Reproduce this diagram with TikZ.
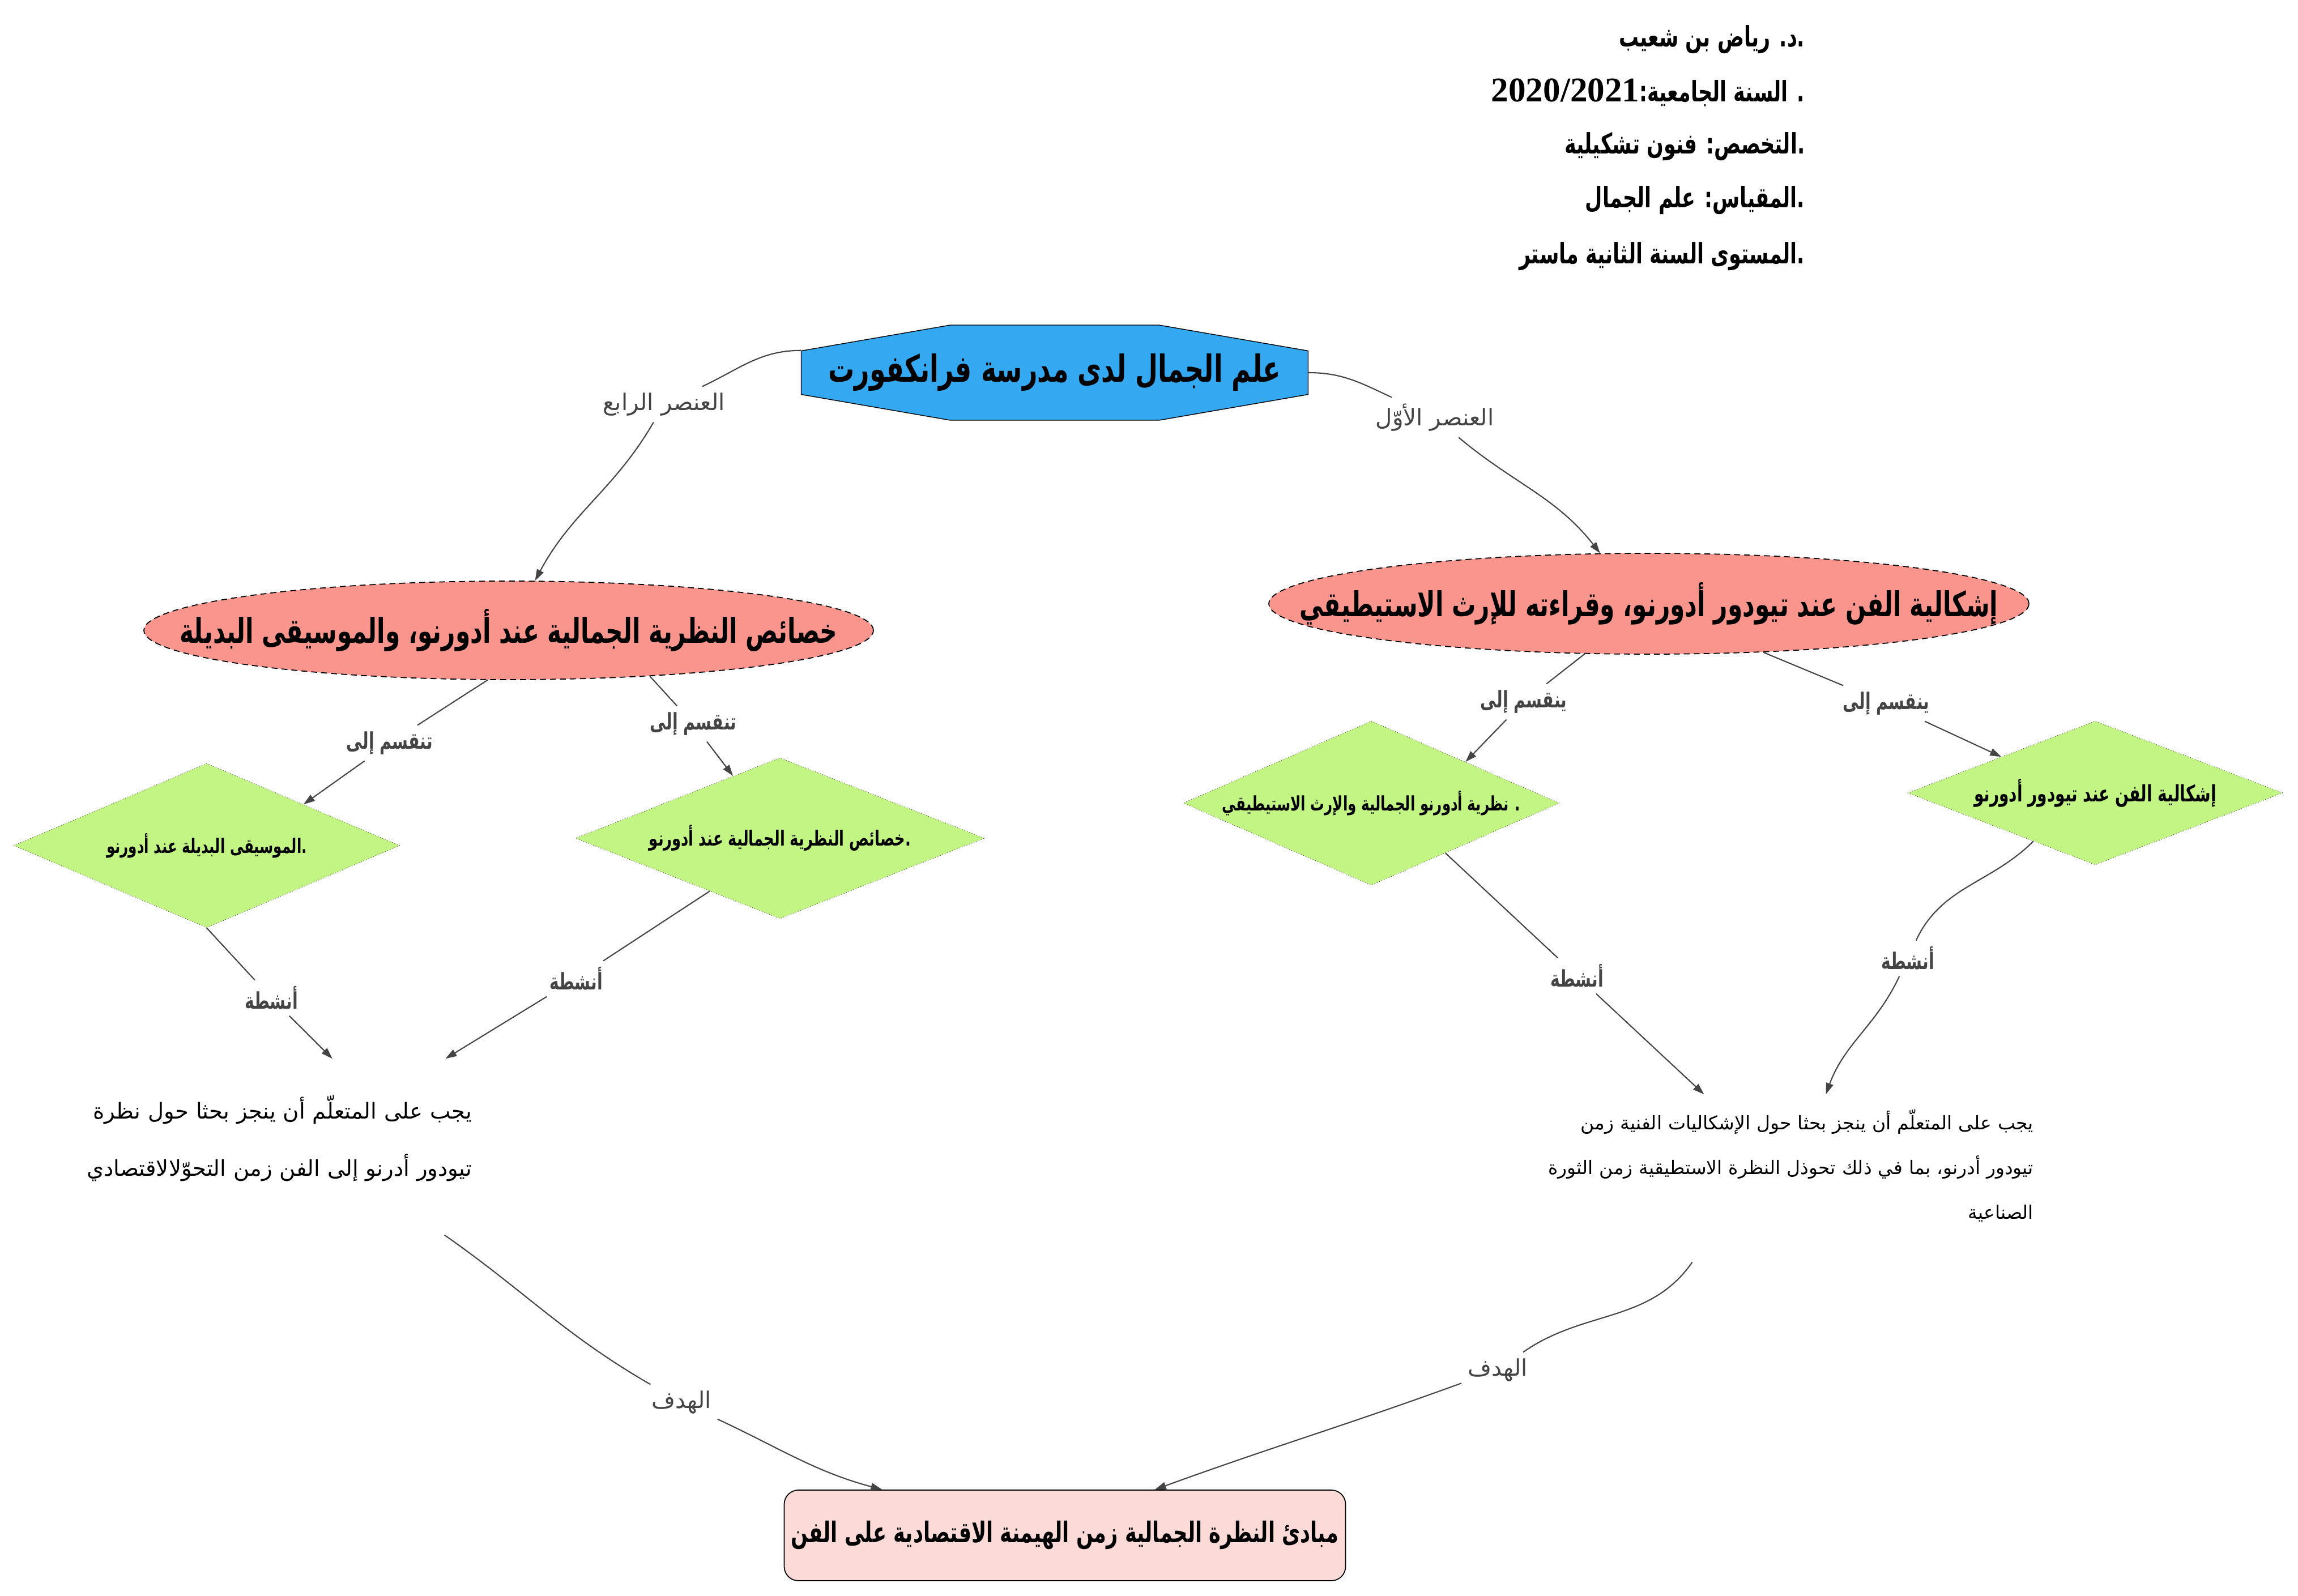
\documentclass[tikz,border=0pt]{standalone}
\usepackage{fontspec}
\usepackage{tikz}
\usetikzlibrary{shapes.geometric,arrows.meta,calc,backgrounds}
\TeXXeTstate=1
\newfontfamily\arabicfont[Script=Arabic]{DejaVu Sans}
\newfontfamily\arabicnarrow[Script=Arabic,FakeStretch=0.7]{DejaVu Sans}
\newfontfamily\latinserif{Liberation Serif}
\definecolor{topicblue}{HTML}{35A8F2}
\definecolor{partsalmon}{HTML}{F9958D}
\definecolor{subgreen}{HTML}{C2F584}
\definecolor{goalpink}{HTML}{FCDAD8}
\definecolor{linkgray}{HTML}{444444}
\newcommand{\rtltext}[1]{\beginR #1\endR}

\begin{document}
\begin{tikzpicture}[
    headline/.style={anchor=east, inner sep=0pt, font={\arabicnarrow\bfseries\fontsize{14.2}{17}\selectfont}},
    topicbox/.style={minimum width=8.95cm, minimum height=1.68cm, inner sep=0pt,
        font={\arabicnarrow\bfseries\fontsize{18.7}{22}\selectfont}},
    partell/.style={ellipse, fill=partsalmon, draw=black, densely dashed, line width=0.5pt,
        inner xsep=-3cm, inner ysep=0pt, font={\arabicnarrow\bfseries\fontsize{17.2}{20}\selectfont}},
    subdiam/.style={diamond, fill=subgreen, draw=black!70, densely dotted, line width=0.3pt,
        inner xsep=-2cm, inner ysep=0pt, font={\arabicnarrow\bfseries\fontsize{10}{12}\selectfont}},
    tasktext/.style={inner sep=0pt, align=right, font={\arabicfont\fontsize{11}{28.7}\selectfont}},
    goalbox/.style={rectangle, rounded corners=0.25cm, fill=goalpink, draw=black, line width=0.5pt,
        minimum width=9.91cm, minimum height=1.60cm, inner sep=0pt,
        font={\arabicnarrow\bfseries\fontsize{14.3}{17}\selectfont}},
    linklabel/.style={inner sep=3pt, text=linkgray, font={\arabicfont\fontsize{11.5}{14}\selectfont}},
    linklabelb/.style={inner sep=3pt, text=linkgray, font={\arabicnarrow\bfseries\fontsize{11.5}{14}\selectfont}},
    conn/.style={draw=linkgray, line width=0.6pt, -{Triangle[length=0.2cm,width=0.13cm]}}
]
    \useasboundingbox (0,0) rectangle (40.57,-28.18);

    % header
    \node[headline] (h1) at (31.87,-0.70) {\rtltext{.د. رياض بن شعيب}};
    \node[headline] (h2) at (31.87,-1.63) {\rtltext{. السنة الجامعية:\beginL{\latinserif\fontsize{17.4}{20}\selectfont 2020/2021}\endL}};
    \node[headline] (h3) at (31.87,-2.59) {\rtltext{.التخصص: فنون تشكيلية}};
    \node[headline] (h4) at (31.87,-3.54) {\rtltext{.المقياس: علم الجمال}};
    \node[headline] (h5) at (31.87,-4.53) {\rtltext{.المستوى السنة الثانية ماستر}};

    % main topic
    \node[topicbox] (topic) at (18.62,-6.58) {\rtltext{علم الجمال لدى مدرسة فرانكفورت}};
    \begin{scope}[on background layer]
        \filldraw[fill=topicblue, draw=black, line width=0.4pt, shift={(topic.center)}]
            (-4.475,0.385) -- (-1.845,0.84) -- (1.845,0.84) -- (4.475,0.385)
            -- (4.475,-0.385) -- (1.845,-0.84) -- (-1.845,-0.84) -- (-4.475,-0.385) -- cycle;
    \end{scope}

    % elements
    \node[partell, minimum width=13.42cm, minimum height=1.78cm] (first) at (29.11,-10.66)
        {\rtltext{إشكالية الفن عند تيودور أدورنو، وقراءته للإرث الاستيطيقي}};
    \node[partell, minimum width=12.88cm, minimum height=1.74cm] (fourth) at (8.98,-11.13)
        {\rtltext{خصائص النظرية الجمالية عند أدورنو، والموسيقى البديلة}};

    \node[subdiam, minimum width=6.62cm, minimum height=2.54cm,
        font={\arabicnarrow\bfseries\fontsize{11.4}{13}\selectfont}] (firstA) at (36.99,-14.00)
        {\rtltext{إشكالية الفن عند تيودور أدورنو}};
    \node[subdiam, minimum width=6.64cm, minimum height=2.90cm] (firstB) at (24.21,-14.18)
        {\rtltext{. نظرية أدورنو الجمالية والإرث الاستيطيقي}};
    \node[subdiam, minimum width=7.22cm, minimum height=2.84cm,
        font={\arabicnarrow\bfseries\fontsize{10.5}{12}\selectfont}] (fourthA) at (13.77,-14.80)
        {\rtltext{.خصائص النظرية الجمالية عند أدورنو}};
    \node[subdiam, minimum width=6.82cm, minimum height=2.90cm] (fourthB) at (3.65,-14.93)
        {\rtltext{.الموسيقى البديلة عند أدورنو}};

    \node[tasktext, text width=8cm, minimum height=2.8cm] (fourthTask) at (4.33,-20.10)
        {\rtltext{يجب على المتعلّم أن ينجز بحثا حول نظرة}\\
         \rtltext{تيودور أدرنو إلى الفن زمن التحوّلالاقتصادي}};
    \node[tasktext, text width=9.5cm, minimum height=2.5cm,
        font={\arabicfont\fontsize{9.4}{22.5}\selectfont}] (firstTask) at (31.15,-20.58)
        {\rtltext{يجب على المتعلّم أن ينجز بحثا حول الإشكاليات الفنية زمن}\\
         \rtltext{تيودور أدرنو، بما في ذلك تحوذل النظرة الاستطيقية زمن الثورة}\\
         \rtltext{الصناعية}};

    \node[goalbox] (goal) at (18.80,-27.11)
        {\rtltext{مبادئ النظرة الجمالية زمن الهيمنة الاقتصادية على الفن}};

    % labels
    \node[linklabel] (l1) at (25.33,-7.37) {\rtltext{العنصر الأوّل}};
    \node[linklabel] (l2) at (11.72,-7.14) {\rtltext{العنصر الرابع}};
    \node[linklabelb] (l3) at (26.90,-12.39) {\rtltext{ينقسم إلى}};
    \node[linklabelb] (l4) at (33.30,-12.42) {\rtltext{ينقسم إلى}};
    \node[linklabelb] (l5) at (6.88,-13.12) {\rtltext{تنقسم إلى}};
    \node[linklabelb] (l6) at (12.24,-12.78) {\rtltext{تنقسم إلى}};
    \node[linklabelb] (l7) at (4.79,-17.62) {\rtltext{أنشطة}};
    \node[linklabelb] (l8) at (10.17,-17.28) {\rtltext{أنشطة}};
    \node[linklabelb] (l9) at (27.84,-17.23) {\rtltext{أنشطة}};
    \node[linklabelb] (l10) at (33.68,-16.92) {\rtltext{أنشطة}};
    \node[linklabel] (l11) at (12.03,-24.76) {\rtltext{الهدف}};
    \node[linklabel] (l12) at (26.44,-24.19) {\rtltext{الهدف}};

    % connectors
    \draw[conn] (topic.east) to[out=0,in=155] (l1) to[out=-40,in=128] (first.134);
    \draw[conn] (topic.175) to[out=180,in=25] (l2) to[out=-120,in=62] (fourth.62);
    \draw[conn] (first.218) -- (l3) -- (firstB.north east);
    \draw[conn] (first.337) -- (l4) -- (firstA.north west);
    \draw[conn] (fourth.247) -- (l5) -- (fourthB.north east);
    \draw[conn] (fourth.342) -- (l6) -- (fourthA.127);
    \draw[conn] (fourthB.south) -- (l7) -- ($(fourthTask.north west)!0.692!(fourthTask.north east)$);
    \draw[conn] (fourthA.217) -- (l8) -- ($(fourthTask.north west)!0.941!(fourthTask.north east)$);
    \draw[conn] (firstB.326) -- (l9) -- ($(firstTask.north west)!0.388!(firstTask.north east)$);
    \draw[conn] (firstA.218) to[out=225,in=65] (l10) to[out=-115,in=70] ($(firstTask.north west)!0.614!(firstTask.north east)$);
    \draw[conn] ($(fourthTask.south west)!0.939!(fourthTask.south east)+(0,-0.3)$) to[out=-35,in=150] (l11) to[out=-25,in=165] ($(goal.north west)!0.175!(goal.north east)$);
    \draw[conn] ($(firstTask.south west)!0.366!(firstTask.south east)+(0,-0.45)$) to[out=235,in=35] (l12) to[out=200,in=20] ($(goal.north west)!0.66!(goal.north east)$);
\end{tikzpicture}
\end{document}
